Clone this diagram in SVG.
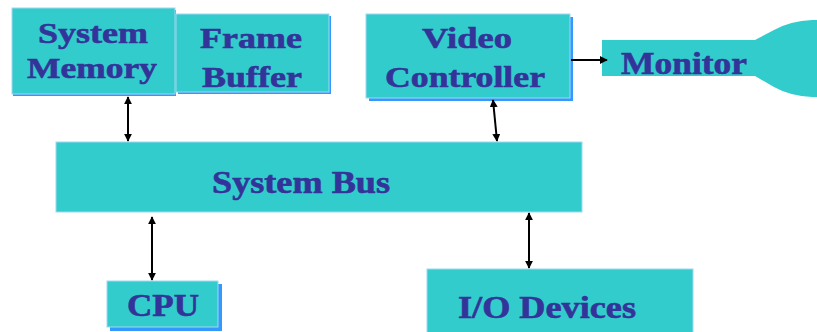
<svg xmlns="http://www.w3.org/2000/svg" width="817" height="332" viewBox="0 0 817 332">
  <style>
    .box { fill: #33CCCC; stroke: #9fd8f0; stroke-width: 1; }
    .shadow { fill: #3399FF; }
    .lbl { font-family: "Liberation Serif", "Times New Roman", serif; font-weight: bold; font-size: 30px; fill: #333399; stroke: #333399; stroke-width: 0.6; }
    .lbl2 { font-family: "Liberation Serif", "Times New Roman", serif; font-weight: bold; font-size: 32px; fill: #333399; stroke: #333399; stroke-width: 0.6; }
    .conn { stroke: #000; stroke-width: 2; fill: none; }
  </style>
  <defs>
    <marker id="ah" viewBox="0 0 10 10" refX="9" refY="5" markerWidth="4" markerHeight="4" orient="auto-start-reverse" markerUnits="strokeWidth">
      <path d="M0,0 L10,5 L0,10 Z" fill="#000"/>
    </marker>
  </defs>
  <rect width="817" height="332" fill="#fff"/>

  <g id="system-memory">
    <rect class="shadow" x="13" y="10" width="163" height="86"/>
    <rect class="box" x="12" y="8" width="163" height="86"/>
    <text class="lbl" x="93" y="43" text-anchor="middle" textLength="110" lengthAdjust="spacingAndGlyphs">System</text>
    <text class="lbl" x="92" y="78" text-anchor="middle" textLength="130" lengthAdjust="spacingAndGlyphs">Memory</text>
  </g>

  <g id="frame-buffer">
    <rect class="shadow" x="178" y="16" width="153" height="78"/>
    <rect class="box" x="176" y="14" width="153" height="78"/>
    <text class="lbl" x="251" y="48" text-anchor="middle" textLength="102" lengthAdjust="spacingAndGlyphs">Frame</text>
    <text class="lbl" x="252" y="87" text-anchor="middle" textLength="100" lengthAdjust="spacingAndGlyphs">Buffer</text>
  </g>

  <g id="video-controller">
    <rect class="shadow" x="369" y="17" width="204" height="84"/>
    <rect class="box" x="366" y="14" width="204" height="84"/>
    <text class="lbl" x="467" y="48" text-anchor="middle" textLength="90" lengthAdjust="spacingAndGlyphs">Video</text>
    <text class="lbl" x="465" y="87" text-anchor="middle" textLength="160" lengthAdjust="spacingAndGlyphs">Controller</text>
  </g>

  <g id="monitor">
    <path d="M602,40 H755 L774,30 Q790,21 812,20 L817,20 V97 L812,97 Q790,96 774,87 L755,76 H602 Z" fill="#33CCCC"/>
    <text class="lbl2" x="621" y="74" textLength="126" lengthAdjust="spacingAndGlyphs">Monitor</text>
  </g>

  <g id="system-bus">
    <rect class="box" x="56" y="142" width="526" height="70"/>
    <text class="lbl2" x="212" y="193" textLength="178" lengthAdjust="spacingAndGlyphs">System Bus</text>
  </g>

  <g id="cpu">
    <rect class="shadow" x="110" y="284" width="112" height="47"/>
    <rect class="box" x="107" y="281" width="111" height="46"/>
    <text class="lbl2" x="127" y="316" textLength="72" lengthAdjust="spacingAndGlyphs">CPU</text>
  </g>

  <g id="io-devices">
    <rect class="box" x="427" y="269" width="266" height="70"/>
    <text class="lbl2" x="458" y="318" textLength="178" lengthAdjust="spacingAndGlyphs">I/O Devices</text>
  </g>

  <g id="connectors">
    <line class="conn" x1="128" y1="97" x2="128" y2="141" marker-start="url(#ah)" marker-end="url(#ah)"/>
    <line class="conn" x1="493" y1="100" x2="497" y2="141" marker-start="url(#ah)" marker-end="url(#ah)"/>
    <line class="conn" x1="571" y1="60" x2="607" y2="60" marker-end="url(#ah)"/>
    <line class="conn" x1="152" y1="217" x2="152" y2="280" marker-start="url(#ah)" marker-end="url(#ah)"/>
    <line class="conn" x1="529" y1="213" x2="529" y2="268" marker-start="url(#ah)" marker-end="url(#ah)"/>
  </g>
</svg>
